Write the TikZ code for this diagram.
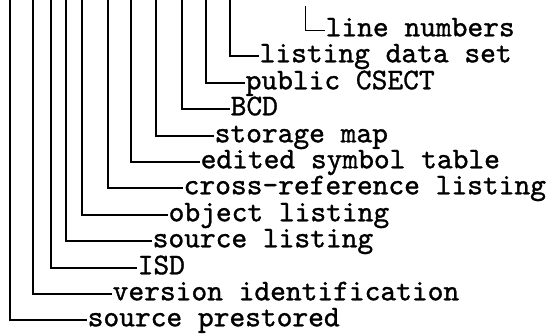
\documentclass[tikz,border=0pt]{standalone}
\usepackage{fontspec}
\newfontfamily\typewriter{lmmono10-regular.otf}[FakeBold=1.1]
\begin{document}
\begin{tikzpicture}[x=1pt,y=1pt,
  lead/.style={line width=1.3pt},
  glyphline/.style={line width=1pt},
  lbl/.style={anchor=west, inner sep=0pt, inner xsep=0.5pt, text height=12.5pt, text depth=0pt,
    font=\fontsize{30}{32}\typewriter}]
\useasboundingbox (0,0) rectangle (553,-333);
% labels
\node[lbl] (t0)  at (87,-320)  {source prestored};
\node[lbl] (t1)  at (112,-294) {version identification};
\node[lbl] (t2)  at (137,-268) {ISD};
\node[lbl] (t3)  at (152,-241) {source listing};
\node[lbl] (t4)  at (168,-215) {object listing};
\node[lbl] (t5)  at (183,-188) {cross-reference listing};
\node[lbl] (t6)  at (200,-162) {edited symbol table};
\node[lbl] (t7)  at (214,-136) {storage map};
\node[lbl] (t8)  at (230,-109) {BCD};
\node[lbl] (t9)  at (245,-83)  {public CSECT};
\node[lbl] (t10) at (259,-56)  {listing data set};
\node[lbl] (t11) at (325,-30)  {line numbers};
% tops of the leaders
\coordinate (v0)  at (10,0);
\coordinate (v1)  at (33,0);
\coordinate (v2)  at (51,0);
\coordinate (v3)  at (66,0);
\coordinate (v4)  at (82,0);
\coordinate (v5)  at (108,0);
\coordinate (v6)  at (131,0);
\coordinate (v7)  at (156,0);
\coordinate (v8)  at (182,0);
\coordinate (v9)  at (206,0);
\coordinate (v10) at (230,0);
\coordinate (v11) at (305,-6);
% leaders
\foreach \i in {0,...,10} {\draw[lead] (v\i) |- (t\i.west);}
\draw[glyphline] (v11) |- (t11.west);
\end{tikzpicture}
\end{document}
